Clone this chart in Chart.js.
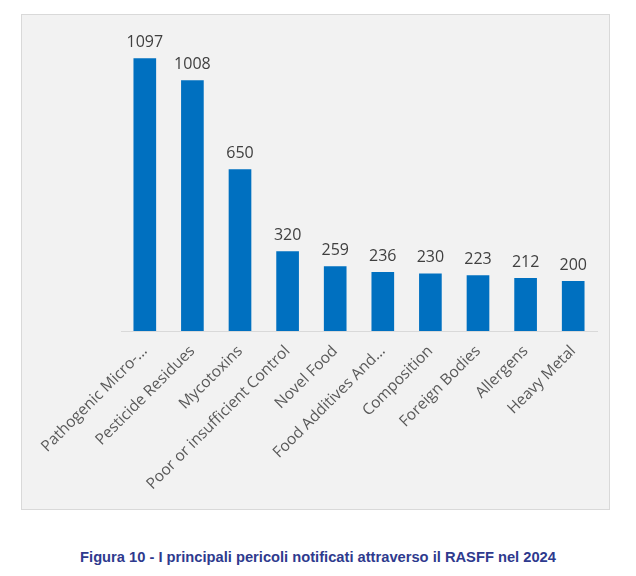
<!DOCTYPE html>
<html>
<head>
<meta charset="utf-8">
<script src="https://cdn.jsdelivr.net/npm/chart.js@4/dist/chart.umd.min.js"></script>
<style>
  body { margin: 0; background: #fff; width: 636px; height: 576px; position: relative; }
  #box { position: absolute; left: 21px; top: 14px; width: 587px; height: 494px;
         background: #f2f2f2; border: 1px solid #d9d9d9; }
  #caption { position: absolute; left: 0; width: 636px; top: 549px; text-align: center;
             font: bold 14.7px "Liberation Sans", Arial, sans-serif; color: #2e3a8e; }
</style>
</head>
<body>
<div id="box"><canvas id="grafico"></canvas></div>
<div id="caption">Figura 10 - I principali pericoli notificati attraverso il RASFF nel 2024</div>
<script>
// pericoli e numero di notifiche
const categorie = ['Pathogenic Micro-...', 'Pesticide Residues', 'Mycotoxins', 'Poor or insufficient Control',
  'Novel Food', 'Food Additives And...', 'Composition', 'Foreign Bodies', 'Allergens', 'Heavy Metal'];
const notifiche = [1097, 1008, 650, 320, 259, 236, 230, 223, 212, 200];

// etichette dei valori sopra le barre
const etichette = {
  id: 'etichette',
  afterDatasetsDraw(chart) {
    const ctx = chart.ctx;
    ctx.save();
    ctx.font = '16px "Open Sans", sans-serif';
    ctx.fillStyle = '#404040';
    ctx.textAlign = 'center';
    ctx.textBaseline = 'bottom';
    chart.getDatasetMeta(0).data.forEach((bar, i) => {
      ctx.fillText(chart.data.datasets[0].data[i], bar.x, bar.y - 8);
    });
    ctx.restore();
  }
};

new Chart(document.getElementById('grafico'), {
  type: 'bar',
  data: {
    labels: categorie,
    datasets: [{
      data: notifiche,
      backgroundColor: '#0070c0',
      barThickness: 22
    }]
  },
  options: {
    responsive: true,
    maintainAspectRatio: false,
    animation: false,
    layout: { padding: { top: 18, left: 99, right: 12, bottom: 0 } },
    plugins: { legend: { display: false }, tooltip: { enabled: false } },
    scales: {
      y: { display: false, min: 0, max: 1200 },
      x: {
        grid: { display: false },
        border: { display: true, color: '#d9d9d9', width: 1 },
        ticks: {
          minRotation: 45, maxRotation: 45,
          color: '#595959',
          font: { family: '"Open Sans", sans-serif', size: 15.5 }
        },
        afterFit(scale) { scale.height = 178; }
      }
    }
  },
  plugins: [etichette]
});
</script>
</body>
</html>
